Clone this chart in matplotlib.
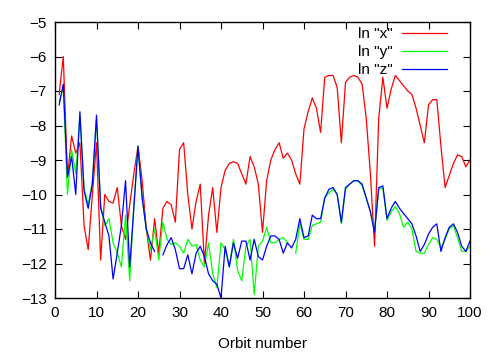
import numpy as np
import matplotlib
matplotlib.use("Agg")
import matplotlib.pyplot as plt

plt.rcParams['font.family'] = ['Liberation Sans', 'DejaVu Sans']
plt.rcParams['font.size'] = 11

nan = np.nan
orbit = np.arange(1, 101)

ln_x = [-7.1, -6.0, -9.5, -8.3, -8.8, -8.5, -10.9, -11.6, -10.0, -8.5,
        -11.9, -10.0, -10.2, -10.25, -9.8, -10.9, -11.3, -10.3, -9.4, -8.6,
        -9.6, -11.0, -11.9, -10.7, -11.7, -10.4, -10.2, -10.3, -10.8, -8.7,
        -8.5, -10.0, -11.0, -10.2, -9.7, -12.0, -10.6, -9.8, -11.1, -9.8,
        -9.3, -9.1, -9.05, -9.1, -9.4, -9.7, -8.9, -9.2, -9.7, -11.1,
        -9.6, -9.0, -8.7, -8.5, -8.95, -8.8, -9.0, -9.4, -9.7, -8.1,
        -7.6, -7.2, -7.5, -8.2, -6.6, -6.55, -6.55, -6.9, -8.5, -6.75,
        -6.6, -6.55, -6.6, -6.8, -7.8, -9.4, -11.5, -7.8, -6.6, -7.5,
        -6.95, -6.55, -6.7, -6.85, -7.0, -7.1, -7.5, -8.0, -8.5, -7.4,
        -7.25, -7.25, -8.6, -9.8, -9.45, -9.1, -8.85, -8.9, -9.2, -9.0]

ln_y = [-7.3, -6.9, -10.0, -8.7, -9.4, -7.7, -9.8, -10.3, -9.6, -7.8,
        -10.3, -10.9, -10.7, -11.4, -11.7, -12.1, -10.6, -12.5, -10.3, -8.6,
        -10.1, -11.0, -11.6, -11.0, -11.9, -10.8, -11.3, -11.45, -11.4, -11.5,
        -11.7, -11.3, -11.5, -11.45, -11.9, -12.1, -11.4, -12.3, -12.7, -11.4,
        -11.6, -12.1, -11.3, -12.2, -12.5, -11.5, -11.3, -12.9, -11.5, -11.35,
        -10.95, -11.4, -11.4, -11.3, -11.25, -11.4, nan, -11.7, -10.85, -11.3,
        -11.3, -10.9, -10.85, -10.8, -10.1, -9.95, -9.85, -10.0, -10.85, -9.85,
        -9.7, -9.6, -9.6, -9.75, -10.1, -10.5, -11.05, -9.85, -9.8, -10.75,
        -10.5, -10.35, -10.55, -10.95, -10.8, -11.0, -11.65, -11.7, -11.7, -11.45,
        -11.25, -11.3, -11.55, -11.3, -11.0, -10.9, -11.25, -11.65, -11.65, -11.5]

ln_z = [-7.4, -6.8, -9.5, -8.9, -10.0, -7.6, -9.9, -10.4, -9.7, -7.7,
        -10.4, -10.8, -11.2, -12.45, -11.7, -10.9, -9.6, -12.1, -10.4, -8.6,
        -10.1, -11.0, -11.4, -11.65, nan, -11.75, -11.45, -11.25, -11.6, -12.15,
        -12.15, -11.75, -12.3, -11.7, -11.5, -11.8, -12.3, -12.5, -12.6, -13.0,
        -11.5, -12.1, -11.4, -11.85, -11.35, -11.35, -11.9, -11.3, -11.8, -11.9,
        -11.5, -11.2, -11.2, -11.3, -11.7, -11.4, -11.55, -11.3, -10.7, -11.25,
        -11.2, -10.6, -10.7, -10.7, -10.1, -9.85, -9.8, -10.0, -10.8, -9.8,
        -9.7, -9.6, -9.6, -9.7, -10.1, -10.5, -11.1, -9.8, -9.75, -10.7,
        -10.4, -10.2, -10.4, -10.55, -10.7, -10.85, -11.2, -11.65, -11.45, -11.15,
        -10.95, -10.85, -11.65, -11.25, -10.95, -10.85, -11.1, -11.5, -11.65, -11.35]

fig = plt.figure(figsize=(5.02, 3.52), dpi=100)
ax = fig.add_axes([55/502, 54/352, 415/502, 276/352])

ax.plot(orbit, ln_x, color='#ff0000', lw=0.9, label='ln "x"')
ax.plot(orbit, ln_y, color='#00ff00', lw=0.9, label='ln "y"')
ax.plot(orbit, ln_z, color='#0000ff', lw=0.9, label='ln "z"')

ax.set_xlim(0, 100)
ax.set_ylim(-13, -5)
ax.set_xticks(range(0, 101, 10))
ax.set_yticks(range(-13, -4))
ax.tick_params(direction='in', top=True, right=True, length=5, width=0.8, pad=6)
for s in ax.spines.values():
    s.set_linewidth(1.0)
ax.set_xlabel('Orbit number', labelpad=12)

# gnuplot-style key: text first, sample line after
ax.legend(loc='upper right', bbox_to_anchor=(397/415, 1.0), frameon=False,
          markerfirst=False, handlelength=2.9, handletextpad=0.6,
          labelspacing=0.25, borderaxespad=0.0, borderpad=0.35, fontsize=11)

fig.savefig('out.png', dpi=100)
